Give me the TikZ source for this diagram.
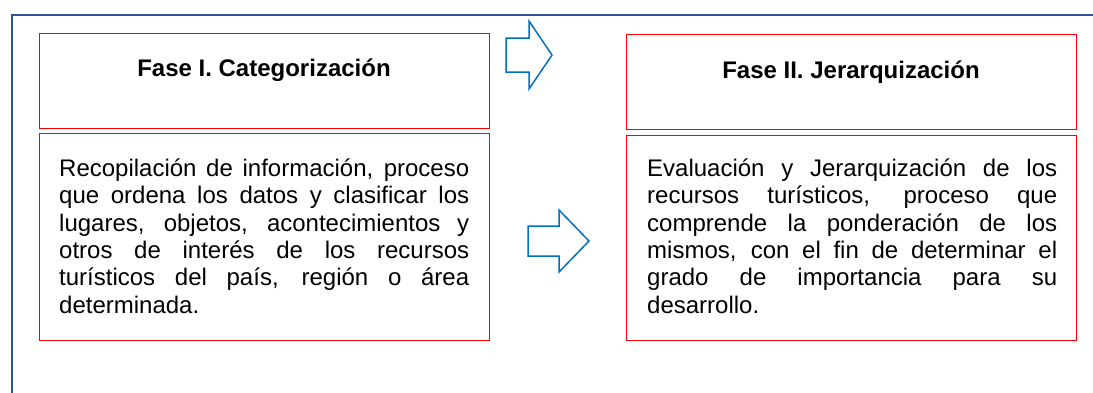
\documentclass[tikz,border=0pt]{standalone}
\usepackage{fontspec}
\setmainfont{Liberation Sans}
\usetikzlibrary{positioning}
\definecolor{framecolor}{RGB}{47,85,151}
\definecolor{boxcolor}{RGB}{255,0,0}
\definecolor{arrowcolor}{RGB}{0,112,192}
\tolerance=10000
\hyphenpenalty=10000
\newcommand{\firstline}{\vrule width 0pt height 20pt\relax}

\begin{document}
\begin{tikzpicture}[
    x=1pt, y=-1pt,
    box/.style={rectangle, draw=boxcolor, line width=1pt, minimum width=450pt, anchor=north west, inner sep=0pt},
    title/.style={font=\fontsize{24}{27}\selectfont\bfseries, anchor=base, inner sep=0pt},
    body/.style={font=\fontsize{24}{27.4}\selectfont, text width=410pt, align=justify, anchor=north west, inner sep=0pt},
    blockarrow/.style={draw=arrowcolor, line width=1.5pt, line join=miter},
]
    \useasboundingbox (0,0) rectangle (1093,392);

    % outer frame
    \draw[framecolor, line width=2.4pt] (12,400) -- (12,15) -- (1100,15);

    % Fase I
    \node[box, minimum height=95pt] (fase1) at (39,33) {};
    \node[box, minimum height=207pt] (desc1) at (39,133) {};
    \node[title] (tit1) at (264,76) {Fase I. Categorización};
    \node[body] (txt1) at (59,156) {\firstline Recopilación de información, proceso\linebreak
        que ordena los datos y clasificar los\linebreak
        lugares, objetos, acontecimientos y\linebreak
        otros de interés de los recursos\linebreak
        turísticos del país, región o área\linebreak
        determinada.};

    % Fase II
    \node[box, minimum height=95pt] (fase2) at (626,34) {};
    \node[box, minimum height=205pt] (desc2) at (626,135) {};
    \node[title] (tit2) at (851,78) {Fase II. Jerarquización};
    \node[body] (txt2) at (647,156) {\firstline Evaluación y Jerarquización de los\linebreak
        recursos turísticos, proceso que\linebreak
        comprende la ponderación de los\linebreak
        mismos, con el fin de determinar el\linebreak
        grado de importancia para su\linebreak
        desarrollo.};

    % block arrows
    \draw[blockarrow] (506,38) -- (529,38) -- (529,21) -- (552,55) -- (529,89) -- (529,72) -- (506,72) -- cycle;
    \draw[blockarrow] (528,226) -- (559,226) -- (559,210) -- (589,241) -- (559,272) -- (559,256) -- (528,256) -- cycle;

\end{tikzpicture}
\end{document}
